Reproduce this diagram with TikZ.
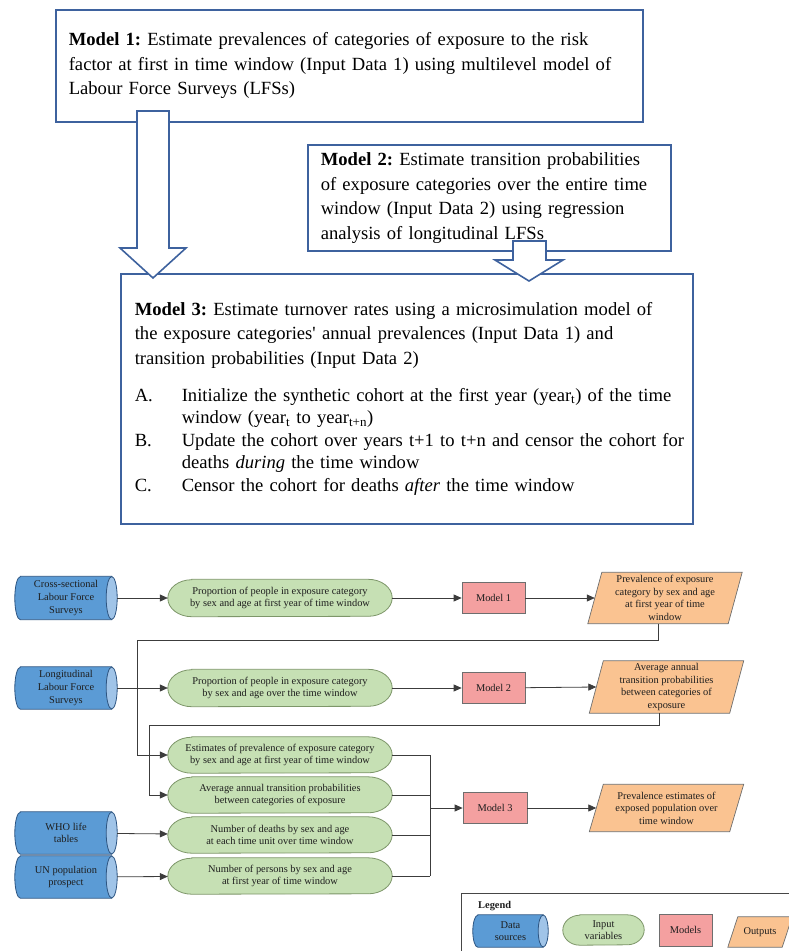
\documentclass[tikz,border=0pt]{standalone}
\usepackage{fontspec}
\setmainfont{Liberation Serif}
\usetikzlibrary{arrows.meta,calc,backgrounds}
\definecolor{topblue}{RGB}{62,98,158}
\definecolor{linec}{RGB}{60,60,60}
\definecolor{txt}{RGB}{30,30,30}
\definecolor{cylblue}{RGB}{91,155,213}
\definecolor{cyledge}{RGB}{45,85,130}
\definecolor{cylendc}{RGB}{160,196,232}
\definecolor{grfill}{RGB}{198,224,180}
\definecolor{gredge}{RGB}{125,150,105}
\definecolor{pkfill}{RGB}{244,160,160}
\definecolor{pkedge}{RGB}{110,110,110}
\definecolor{orfill}{RGB}{250,195,145}
\definecolor{oredge}{RGB}{110,110,110}
\definecolor{legedge}{RGB}{70,70,70}
\newcommand\termshape[3]{\path[termfill] ([xshift=#2]#1.north west) -- ([xshift=-#2]#1.north east) arc[start angle=90,end angle=-90,x radius=#2,y radius=#3] -- ([xshift=#2]#1.south west) arc[start angle=270,end angle=90,x radius=#2,y radius=#3] -- cycle;}
\newcommand\cylshape[3]{\path[cylbody] ([xshift=#2]#1.north west) -- ([xshift=-#2]#1.north east) -- ([xshift=-#2]#1.south east) -- ([xshift=#2]#1.south west) arc[start angle=270,end angle=90,x radius=#2,y radius=#3] -- cycle;
\path[cylcap] ([xshift=-#2]#1.east) ellipse[x radius=#2,y radius=#3];}
\newcommand\parashape[2]{\path[outfill] ([xshift=#2]#1.north west) -- (#1.north east) -- ([xshift=-#2]#1.south east) -- (#1.south west) -- cycle;}
\newcommand\itemline[2]{\makebox[47pt][l]{#1}\mbox{#2}}
\frenchspacing
\begin{document}
\begin{tikzpicture}[x=1pt,y=-1pt,
  topbox/.style={draw=topblue, line width=1.6pt, rectangle, anchor=north west, align=left, inner ysep=0pt, font=\fontsize{18.6}{24.5}\selectfont},
  blockarrow/.style={draw=topblue, fill=white, line width=1.6pt, line join=miter},
  flowtext/.style={font=\fontsize{10.4}{12.6}\selectfont, text=txt, align=center, inner sep=0pt, rectangle},
  termfill/.style={fill=grfill, draw=gredge, line width=0.8pt},
  cylbody/.style={fill=cylblue, draw=cyledge, line width=0.8pt},
  cylcap/.style={fill=cylendc, draw=cyledge, line width=0.8pt},
  outfill/.style={fill=orfill, draw=oredge, line width=0.7pt},
  modelbox/.style={flowtext, fill=pkfill, draw=pkedge, line width=0.7pt, minimum width=63pt, minimum height=31pt},
  conn/.style={draw=linec, line width=0.8pt},
  flow/.style={conn, -{Triangle[length=8pt,width=7pt]}}
]
\useasboundingbox (0,0) rectangle (789,951);

% ---------- top part ----------
\node[topbox, minimum width=587pt, minimum height=112pt, inner xsep=13pt, text width=561pt] (tm1) at (55,9)
 {\mbox{\textbf{Model 1:} Estimate prevalences of categories of exposure to the risk}\\
  \mbox{factor at first in time window (Input Data 1) using multilevel model of}\\
  \mbox{Labour Force Surveys (LFSs)}};
\node[topbox, minimum width=363pt, minimum height=106pt, inner xsep=13pt, text width=337pt] (tm2) at (307,144)
 {\mbox{\textbf{Model 2:} Estimate transition probabilities}\\
  \mbox{of exposure categories over the entire time}\\
  \mbox{window (Input Data 2) using regression}\\
  \mbox{analysis of longitudinal LFSs}};
\node[topbox, minimum width=572pt, minimum height=250pt, inner xsep=14pt, text width=544pt] (tm3) at (120,273)
 {\mbox{\textbf{Model 3:} Estimate turnover rates using a microsimulation model of}\\
  \mbox{the exposure categories\textquotesingle\ annual prevalences (Input Data 1) and}\\
  \mbox{transition probabilities (Input Data 2)}\\[12.5pt]
  \itemline{A.}{Initialize the synthetic cohort at the first year (year\textsubscript{t}) of the time}\\[-2pt]
  \itemline{}{window (year\textsubscript{t} to year\textsubscript{t+n})}\\[-2pt]
  \itemline{B.}{Update the cohort over years t+1 to t+n and censor the cohort for}\\[-2pt]
  \itemline{}{deaths \textit{during} the time window}\\[-2pt]
  \itemline{C.}{Censor the cohort for deaths \textit{after} the time window}};

\path[blockarrow] (137,111) -- (169,111) -- (169,248) -- (186,248) -- (153,278) -- (120,248) -- (137,248) -- cycle;
\path[blockarrow] (513,241) -- (546,241) -- (546,260) -- (563,260) -- (529,281) -- (495,260) -- (513,260) -- cycle;

% ---------- flowchart ----------
\node[flowtext, minimum width=102pt, minimum height=43pt] (cs) at (66,598) {Cross-sectional\\Labour Force\\Surveys};
\node[flowtext, minimum width=102pt, minimum height=42pt] (lo) at (66,688) {Longitudinal\\Labour Force\\Surveys};
\node[flowtext, minimum width=102pt, minimum height=42pt] (who) at (66,833) {WHO life\\tables};
\node[flowtext, minimum width=102pt, minimum height=42pt] (un) at (66,877) {UN population\\prospect};

\node[flowtext, minimum width=224pt, minimum height=37pt] (e1) at (280,598) {Proportion of people in exposure category\\by sex and age at first year of time window};
\node[flowtext, minimum width=224pt, minimum height=37pt] (e2) at (280,688) {Proportion of people in exposure category\\by sex and age over the time window};
\node[flowtext, minimum width=224pt, minimum height=36pt] (e3) at (280,755) {Estimates of prevalence of exposure category\\by sex and age at first year of time window};
\node[flowtext, minimum width=224pt, minimum height=36pt] (e4) at (280,795) {Average annual transition probabilities\\between categories of exposure};
\node[flowtext, minimum width=224pt, minimum height=36pt] (e5) at (280,835) {Number of deaths by sex and age\\at each time unit over time window};
\node[flowtext, minimum width=224pt, minimum height=36pt] (e6) at (280,876) {Number of persons by sex and age\\at first year of time window};

\node[modelbox] (m1) at (493.5,598) {Model 1};
\node[modelbox] (m2) at (493.5,688) {Model 2};
\node[modelbox, minimum width=64pt] (m3) at (495,808) {Model 3};

\node[flowtext, minimum width=154pt, minimum height=51pt] (o1) at (665,598) {Prevalence of exposure\\category by sex and age\\at first year of time\\window};
\node[flowtext, minimum width=154pt, minimum height=52pt] (o2) at (666.5,687) {Average annual\\transition probabilities\\between categories of\\exposure};
\node[flowtext, minimum width=154pt, minimum height=47pt] (o3) at (666.5,808) {Prevalence estimates of\\exposed population over\\time window};

% legend
\node[draw=legedge, line width=1.4pt, rectangle, minimum width=345pt, minimum height=70pt, anchor=north west, inner sep=0pt] (leg) at (461,893) {};
\node[flowtext, font=\fontsize{10.4}{12.6}\selectfont\bfseries, anchor=west] (legt) at (478,906) {Legend};
\node[flowtext, minimum width=75pt, minimum height=32pt] (lcyl) at (510.5,931) {Data\\sources};
\node[flowtext, minimum width=81pt, minimum height=30pt] (lterm) at (603.5,930) {Input\\variables};
\node[modelbox, minimum width=53pt, minimum height=32pt] (lmod) at (685.5,930) {Models};
\node[flowtext, minimum width=64pt, minimum height=30pt] (lout) at (760,932) {Outputs};

\begin{pgfonlayer}{background}
  \cylshape{cs}{5.5pt}{21.5pt}
  \cylshape{lo}{5.5pt}{21pt}
  \cylshape{who}{5.5pt}{21pt}
  \cylshape{un}{5.5pt}{21pt}
  \cylshape{lcyl}{5pt}{16pt}
  \termshape{e1}{24pt}{18.5pt}
  \termshape{e2}{24pt}{18.5pt}
  \termshape{e3}{24pt}{18pt}
  \termshape{e4}{24pt}{18pt}
  \termshape{e5}{24pt}{18pt}
  \termshape{e6}{24pt}{18pt}
  \termshape{lterm}{17pt}{15pt}
  \parashape{o1}{14pt}
  \parashape{o2}{14pt}
  \parashape{o3}{14pt}
  \parashape{lout}{10pt}
\end{pgfonlayer}

% connectors
\coordinate (fb1) at (137,640);
\coordinate (fb2) at (149,725);
\coordinate (bx) at (430,808);

\draw[flow] (cs) -- (e1);
\draw[flow] (e1) -- (m1);
\draw[flow] (m1) -- ([xshift=7pt]o1.west);
\draw[flow] (lo) -- (e2);
\draw[flow] (e2) -- (m2);
\draw[flow] (m2) -- ([xshift=7pt]o2.west);
\draw[flow] (who) -- (e5);
\draw[flow] (un) -- (e6);
\draw[flow] ([xshift=-7pt]o1.south) |- (fb1) |- (e3.west);
\draw[flow] ([xshift=-7pt]o2.south) |- (fb2) |- (e4.west);
\draw[conn] (e3.east) -- (e3.east -| bx);
\draw[conn] (e4.east) -- (e4.east -| bx);
\draw[conn] (e5.east) -- (e5.east -| bx);
\draw[conn] (e6.east) -- (e6.east -| bx);
\draw[conn] (e3.east -| bx) -- (e6.east -| bx);
\draw[flow] (bx) -- (m3);
\draw[flow] (m3) -- ([xshift=7pt]o3.west);
\end{tikzpicture}
\end{document}
